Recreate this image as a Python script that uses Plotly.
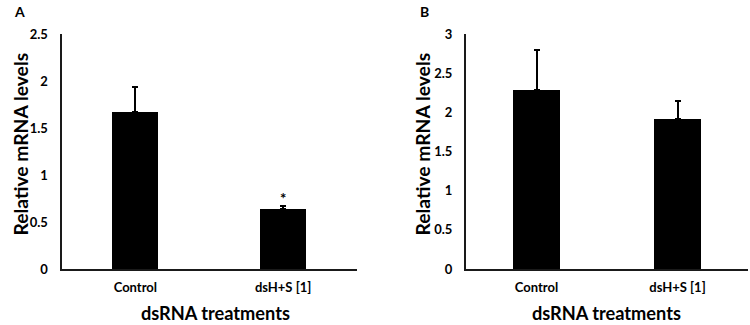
import plotly.graph_objects as go

categories = ["Control", "dsH+S [1]"]
a_values = [1.67, 0.64]
a_err = [0.27, 0.03]
b_values = [2.28, 1.91]
b_err = [0.52, 0.24]
a_ticks = [0, 0.5, 1, 1.5, 2, 2.5]
b_ticks = [0, 0.5, 1, 1.5, 2, 2.5, 3]
x_title = "dsRNA treatments"
y_title = "Relative mRNA levels"

W, H = 750, 325
FONT = "Lato"

fig = go.Figure()

def bar(x, y, err, xa, ya, width):
    return go.Bar(
        x=x, y=y, xaxis=xa, yaxis=ya, width=width,
        marker=dict(color="black", line=dict(width=0)),
        error_y=dict(type="data", array=err, arrayminus=[0] * len(err),
                     symmetric=False, color="black", thickness=2, width=3),
        showlegend=False, hoverinfo="skip",
    )

fig.add_trace(bar(categories, a_values, a_err, "x", "y", 0.31))
fig.add_trace(bar(categories, b_values, b_err, "x2", "y2", 0.33))

ydom = [(H - 269) / H, (H - 34) / H]
axis_common = dict(showline=True, linewidth=2, linecolor="#1a1a1a", ticks="",
                   showgrid=False, zeroline=False, automargin=False, fixedrange=True,
                   tickfont=dict(family=FONT, size=13, color="black", weight="bold"))

fig.update_layout(
    width=W, height=H,
    margin=dict(l=0, r=0, t=0, b=0, autoexpand=False),
    plot_bgcolor="white", paper_bgcolor="white",
    font=dict(family=FONT, color="black"),
    xaxis=dict(domain=[61.5 / W, 357 / W], anchor="y", ticklabelstandoff=5, **axis_common),
    yaxis=dict(domain=ydom, anchor="x", range=[0, 2.5], tickvals=a_ticks,
               ticktext=[f"{t:g}" for t in a_ticks], ticklabelstandoff=9, **axis_common),
    xaxis2=dict(domain=[466 / W, 748 / W], anchor="y2", ticklabelstandoff=5, **axis_common),
    yaxis2=dict(domain=ydom, anchor="x2", range=[0, 3], tickvals=b_ticks,
                ticktext=[f"{t:g}" for t in b_ticks], ticklabelstandoff=9, **axis_common),
    bargap=0.0,
)

def paper_text(px, py, text, size, angle=0):
    fig.add_annotation(x=px / W, y=1 - py / H, xref="paper", yref="paper", text=text,
                       showarrow=False, xanchor="center", yanchor="middle",
                       textangle=angle,
                       font=dict(family=FONT, size=size, weight="bold", color="black"))

paper_text(19.5, 11.5, "A", 14)
paper_text(424, 11, "B", 14)
paper_text(19.5, 144, y_title, 19.3, -90)
paper_text(421.5, 144, y_title, 19.3, -90)
paper_text(215, 313, x_title, 18.2)
paper_text(606, 313, x_title, 18.2)

fig.add_annotation(x=categories[1], y=a_values[1] + a_err[1], xref="x", yref="y",
                   text="*", showarrow=False, yanchor="bottom", yshift=-3,
                   font=dict(family=FONT, size=15, weight="bold"))

fig.write_html("out.html", config={"displayModeBar": False, "staticPlot": True},
               post_script="document.body.style.margin='0';document.body.style.overflow='hidden';")
